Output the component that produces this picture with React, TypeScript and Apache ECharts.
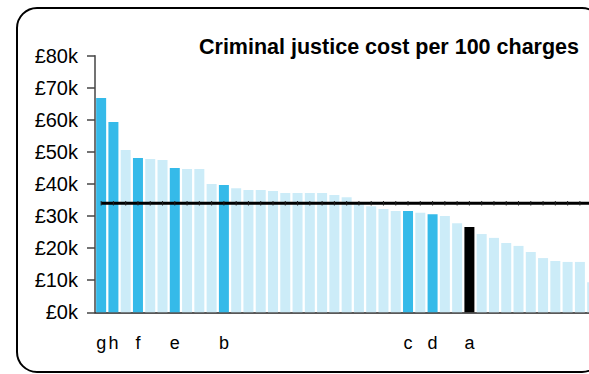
import React, { useEffect, useRef } from "react";
import * as echarts from "echarts";

const areaLabels = [
  "g", "h", "", "f", "", "", "e", "", "", "", "b", "", "", "", "", "", "", "", "", "", "",
  "", "", "", "", "c", "", "d", "", "", "a", "", "", "", "", "", "", "", "", "", "",
];
const costValues = [
  66800, 59300, 50600, 48100, 47800, 47500, 45000, 44700, 44700, 40000, 39700,
  38700, 38100, 38100, 37800, 37200, 37200, 37200, 37200, 36600, 35900,
  34200, 33100, 32200, 31600, 31600, 31000, 30600, 30000, 27800, 26600,
  24400, 23200, 21600, 20700, 18800, 16900, 16000, 15700, 15700, 9400,
];
const highlighted = ["g", "h", "f", "e", "b", "c", "d"];
const focusArea = "a";
const averageCost = 34000;
const yTicks = [0, 10000, 20000, 30000, 40000, 50000, 60000, 70000, 80000];
const titleText = "Criminal justice cost per 100 charges";

export default function App() {
  const ref = useRef<HTMLDivElement>(null);
  useEffect(() => {
    if (!ref.current) return;
    const chart = echarts.init(ref.current, undefined, { renderer: "svg" });
    const cats = areaLabels.map((_, i) => String(i));
    const barData = costValues.map((v, i) => {
      const lab = areaLabels[i];
      let color = "#CCECF8";
      if (lab === focusArea) color = "#000000";
      else if (highlighted.includes(lab)) color = "#35BAE9";
      return { value: v, itemStyle: { color } };
    });
    chart.setOption({
      animation: false,
      grid: { left: 95, top: 55.7, bottom: 61.7, right: 21.7, containLabel: false },
      title: {
        text: titleText,
        right: 36,
        top: 31,
        textStyle: { fontFamily: "Liberation Sans, Arial", fontWeight: "bold", fontSize: 21.5, color: "#000" },
      },
      xAxis: {
        type: "category",
        data: cats,
        axisTick: { show: false },
        axisLine: { lineStyle: { color: "#222", width: 1.5 } },
        axisLabel: {
          interval: 0,
          margin: 22,
          fontFamily: "Liberation Sans, Arial",
          fontSize: 18,
          color: "#000",
          formatter: (_v: string, i: number) => areaLabels[i],
        },
      },
      yAxis: {
        type: "value",
        min: 0,
        max: 80000,
        interval: 10000,
        splitLine: { show: false },
        axisLine: { show: true, lineStyle: { color: "#444", width: 1.5 } },
        axisTick: { show: true, length: 8, lineStyle: { color: "#444", width: 1.5 } },
        axisLabel: {
          margin: 17,
          fontFamily: "Liberation Sans, Arial",
          fontSize: 20,
          color: "#000",
          formatter: (v: number) => (yTicks.includes(v) ? "£" + v / 1000 + "k" : ""),
        },
      },
      graphic: [
        {
          type: "rect",
          shape: { x: 17, y: 8, width: 585, height: 364, r: 20 },
          style: { fill: "none", stroke: "#000", lineWidth: 2 },
          z: 100,
        },
      ],
      series: [
        {
          type: "bar",
          data: barData,
          barWidth: 10,
          z: 2,
        },
        {
          type: "line",
          data: costValues.map(() => averageCost),
          symbol: "rect",
          symbolSize: [1, 4.5],
          showSymbol: true,
          itemStyle: { color: "#222" },
          lineStyle: { color: "#000", width: 3 },
          z: 3,
        },
      ],
    });
    return () => chart.dispose();
  }, []);
  return (
    <div style={{ position: "absolute", left: 0, top: 0, width: 589, height: 374, overflow: "hidden", background: "#fff" }}>
      <div ref={ref} style={{ width: 620, height: 374 }} />
    </div>
  );
}
